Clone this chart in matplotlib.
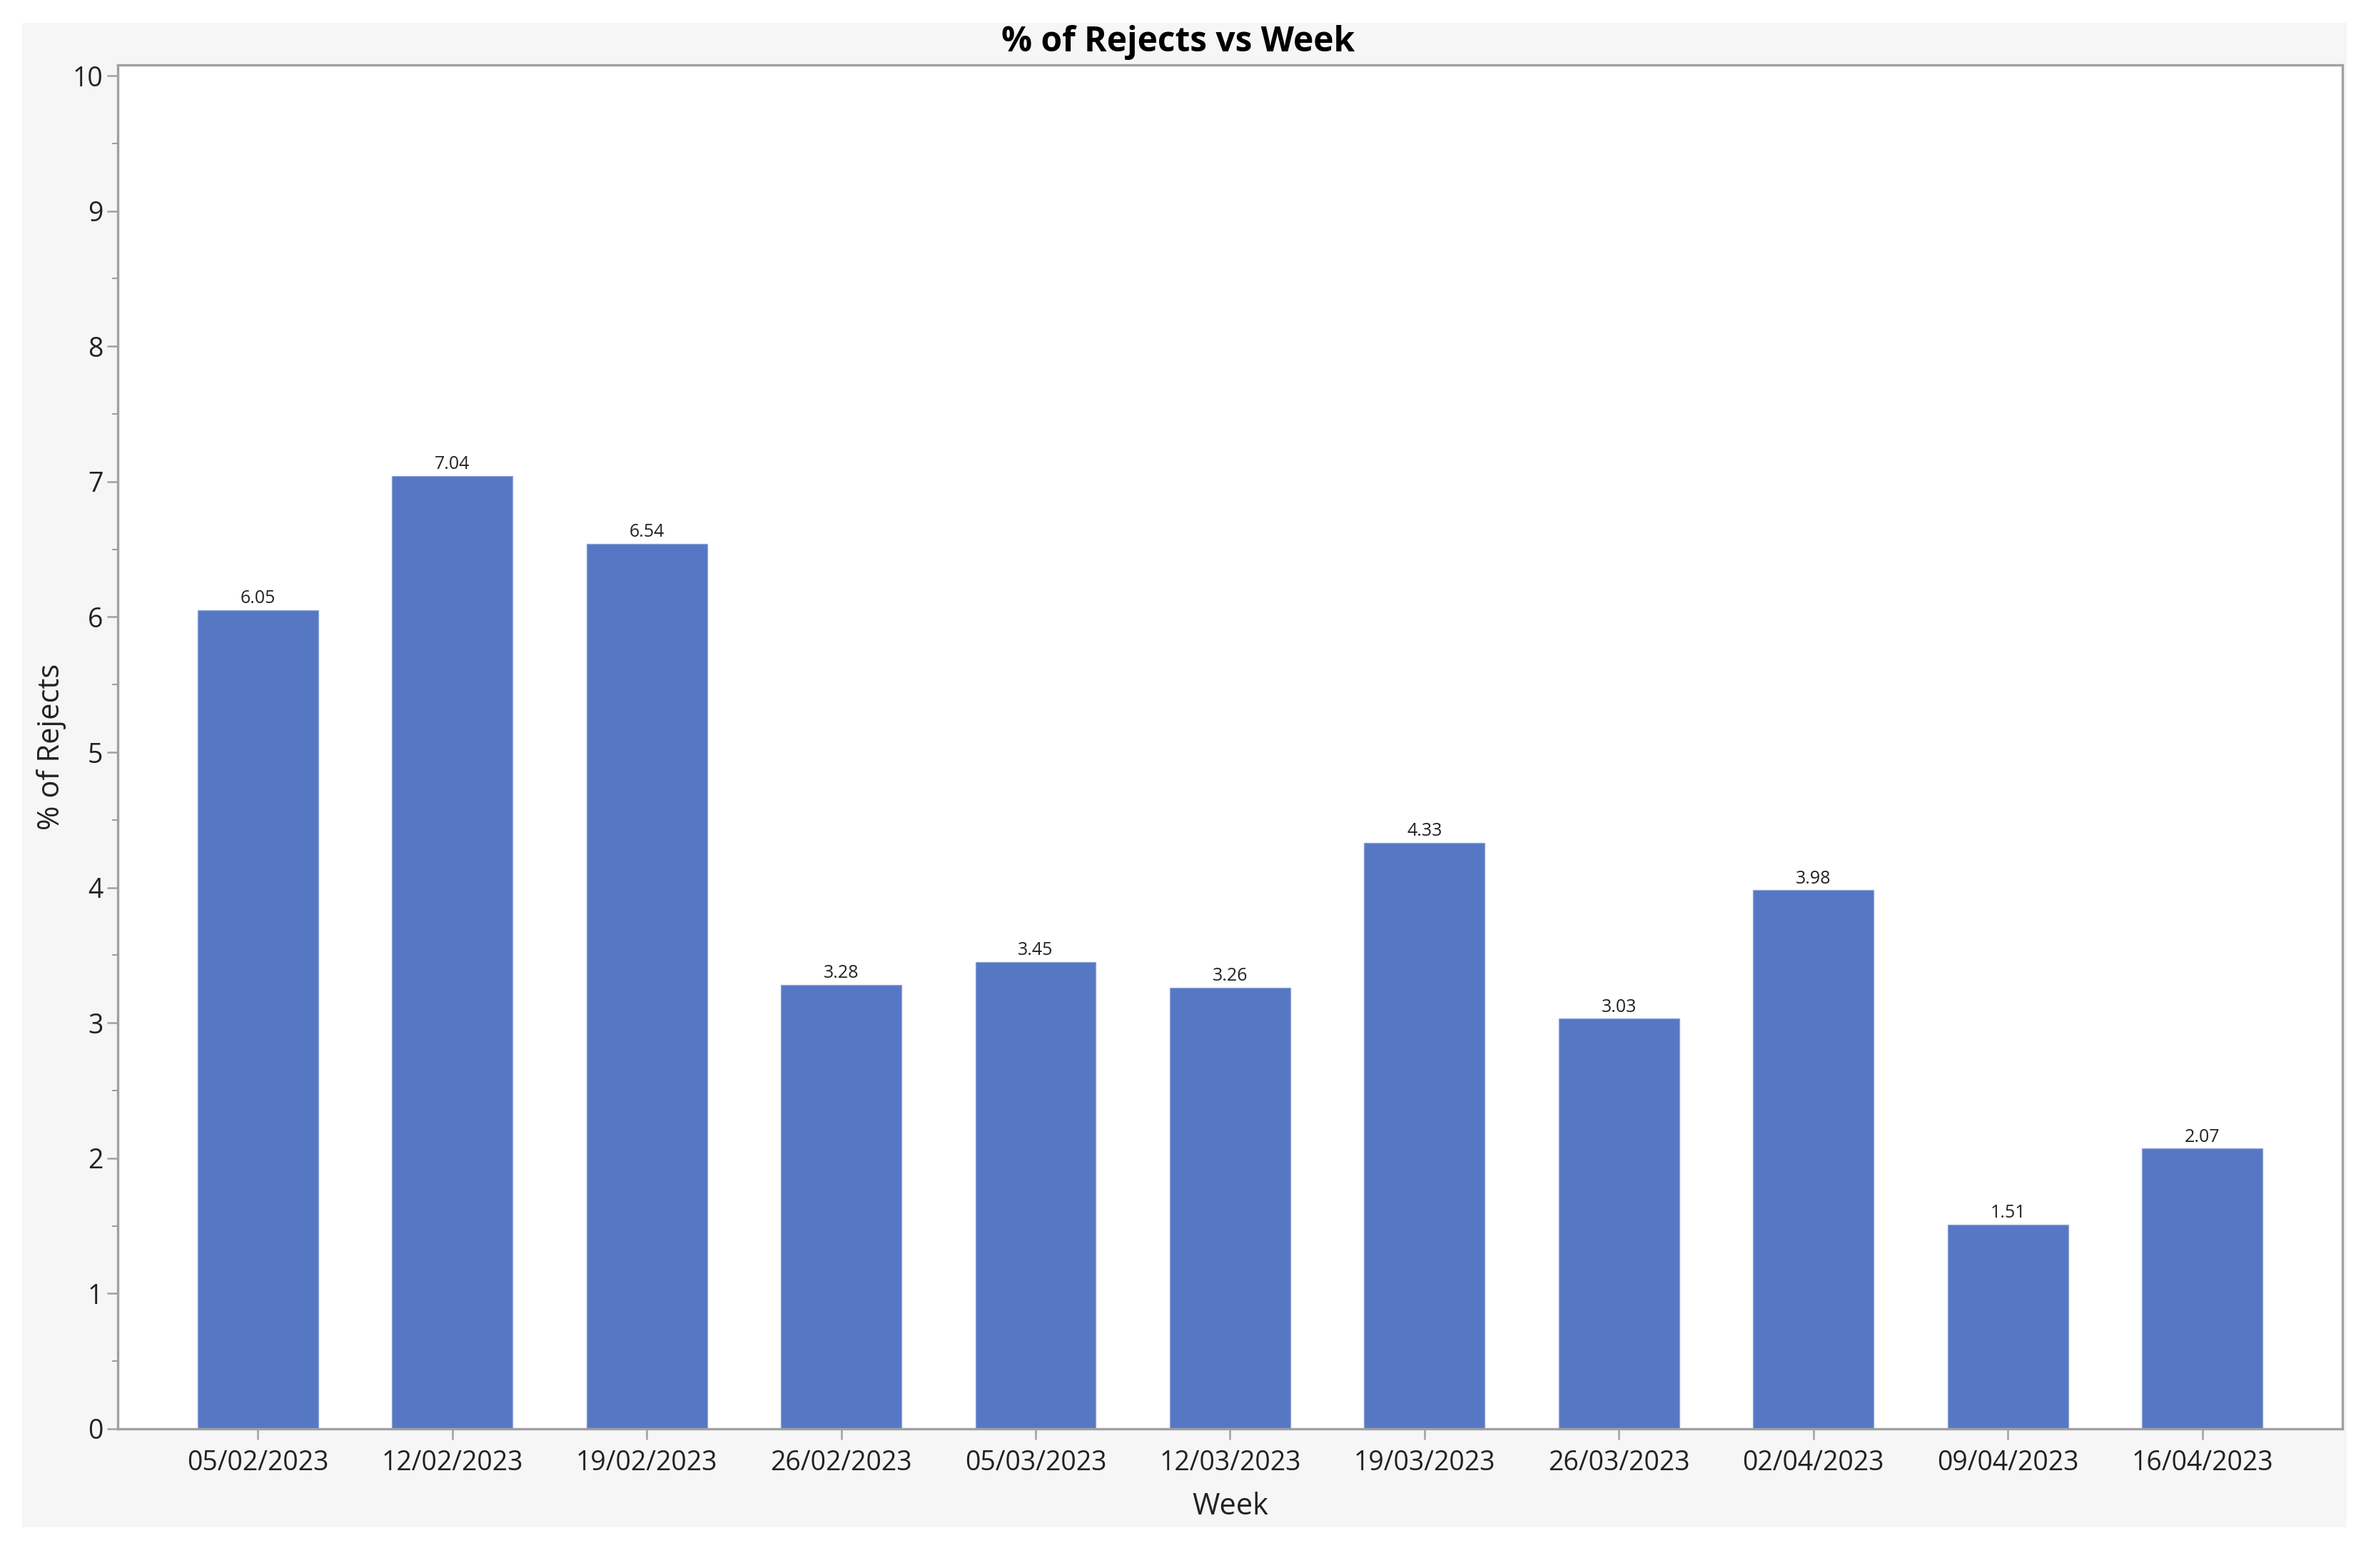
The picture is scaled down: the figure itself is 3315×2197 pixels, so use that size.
import matplotlib
matplotlib.use("Agg")
import matplotlib.pyplot as plt
from matplotlib.patches import Rectangle
from matplotlib.ticker import MultipleLocator

weeks = ["05/02/2023", "12/02/2023", "19/02/2023", "26/02/2023", "05/03/2023",
         "12/03/2023", "19/03/2023", "26/03/2023", "02/04/2023", "09/04/2023",
         "16/04/2023"]
rejects = [6.05, 7.04, 6.54, 3.28, 3.45, 3.26, 4.33, 3.03, 3.98, 1.51, 2.07]

plt.rcParams['font.family'] = ['Open Sans', 'DejaVu Sans']

fig = plt.figure(figsize=(3315 / 300, 2197 / 300), dpi=300)
fig.patch.set_facecolor('white')

# grey frame behind the chart
fig.add_artist(Rectangle((0.0095, 0.026), 0.9825, 0.9595, transform=fig.transFigure,
                         facecolor='#f6f6f6', edgecolor='none', zorder=0))

ax = fig.add_axes([0.0498, 0.0888, 0.9402, 0.8698])
ax.set_facecolor('white')

x = range(len(weeks))
bars = ax.bar(x, rejects, width=0.62, color='#5677c4', edgecolor='#8fa6d8', linewidth=0.3, zorder=2)
for xi, v in zip(x, rejects):
    ax.text(xi, v + 0.02, f"{v:.2f}", ha='center', va='bottom', fontsize=6, color='#222222')

ax.set_xlim(-0.72, 10.72)
ax.set_ylim(0, 10.08)
ax.set_xticks(list(x))
ax.set_xticklabels(weeks)
ax.yaxis.set_major_locator(MultipleLocator(1))
ax.yaxis.set_minor_locator(MultipleLocator(0.5))

for s in ax.spines.values():
    s.set_color('#a0a0a0')
    s.set_linewidth(0.8)

ax.tick_params(axis='both', which='major', direction='out', length=3.5, width=0.6,
               color='#a0a0a0', labelsize=9, labelcolor='#222222')
ax.tick_params(axis='y', which='minor', direction='out', length=2, width=0.5, color='#a0a0a0')
ax.tick_params(axis='y', which='major', pad=1.5)
ax.tick_params(axis='x', which='major', pad=3.5)

ax.set_xlabel('Week', fontsize=10, color='#222222', labelpad=5)
ax.set_ylabel('% of Rejects', fontsize=10, color='#222222', labelpad=2)
# title is centred on the grey panel, not the axes
fig.text(0.498, 0.973, '% of Rejects vs Week', fontsize=11.5, fontweight='bold',
         color='black', ha='center', va='center')

fig.savefig('out.png', dpi=300, facecolor=fig.get_facecolor())
